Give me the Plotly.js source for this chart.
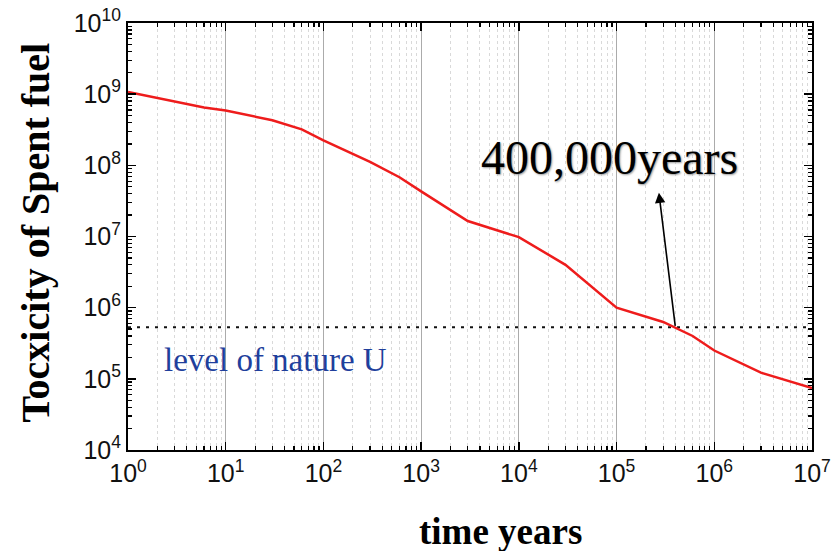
<!DOCTYPE html>
<html>
<head>
<meta charset="utf-8">
<script src="https://cdn.plot.ly/plotly-3.0.1.min.js"></script>
<style>
  html, body { margin: 0; padding: 0; background: #fff; }
  #chart { width: 833px; height: 551px; }
</style>
</head>
<body>
<div id="chart"></div>
<script>
// time (years)
var years = [1, 6, 10, 30, 60, 100, 300, 600, 1000, 3000, 10000, 30000, 100000, 300000, 600000, 1000000, 3000000, 10000000];
// toxicity of spent fuel
var toxicity = [1.07e9, 6.5e8, 5.9e8, 4.3e8, 3.2e8, 2.25e8, 1.12e8, 6.8e7, 4.3e7, 1.65e7, 9.8e6, 4.0e6, 1.0e6, 6.3e5, 4.0e5, 2.5e5, 1.22e5, 7.4e4];
// natural uranium level
var natureLevel = 5.3e5;
var natureRangeX = [1, 10000000];
var crossingYear = 400000;

var xTickVals = [1, 10, 100, 1000, 10000, 100000, 1000000, 10000000];
var xTickText = ['10<sup>0</sup>', '10<sup>1</sup>', '10<sup>2</sup>', '10<sup>3</sup>', '10<sup>4</sup>', '10<sup>5</sup>', '10<sup>6</sup>', '10<sup>7</sup>'];
var yTickVals = [1e4, 1e5, 1e6, 1e7, 1e8, 1e9, 1e10];
var yTickText = ['10<sup>4</sup>', '10<sup>5</sup>', '10<sup>6</sup>', '10<sup>7</sup>', '10<sup>8</sup>', '10<sup>9</sup>', '10<sup>10</sup>'];

var traces = [
  {
    x: natureRangeX, y: [natureLevel, natureLevel],
    type: 'scatter', mode: 'lines',
    line: {color: '#111', width: 2, dash: '3px,6px'},
    hoverinfo: 'skip', showlegend: false
  },
  {
    x: years, y: toxicity,
    type: 'scatter', mode: 'lines',
    line: {color: '#ee1c1c', width: 2.5},
    showlegend: false
  }
];

var tickFont = {family: 'Liberation Sans, Arial, sans-serif', size: 25, color: '#111'};
var serif = 'Liberation Serif, Times New Roman, serif';

var layout = {
  width: 833, height: 551,
  margin: {l: 128, r: 21, t: 23, b: 101},
  paper_bgcolor: '#fff', plot_bgcolor: '#fff',
  showlegend: false,
  xaxis: {
    type: 'log', range: [0, 7],
    tickmode: 'array', tickvals: xTickVals, ticktext: xTickText,
    tickfont: tickFont, ticklabeloverflow: 'allow',
    ticks: 'inside', ticklen: 8, tickwidth: 1.5, tickcolor: '#000',
    showline: true, linecolor: '#000', linewidth: 2, mirror: 'ticks',
    showgrid: true, gridcolor: '#ababab', gridwidth: 1,
    zeroline: false,
    minor: {dtick: 'D1', ticks: 'inside', ticklen: 4, tickwidth: 1.2, tickcolor: '#000',
            showgrid: true, gridcolor: '#d9d9d9', gridwidth: 1, griddash: '3px,3px'}
  },
  yaxis: {
    type: 'log', range: [4, 10],
    tickmode: 'array', tickvals: yTickVals, ticktext: yTickText,
    tickfont: tickFont, ticklabeloverflow: 'allow',
    ticks: 'inside', ticklen: 8, tickwidth: 1.5, tickcolor: '#000',
    showline: true, linecolor: '#000', linewidth: 2, mirror: 'ticks',
    showgrid: false, zeroline: false,
    minor: {dtick: 'D1', ticks: 'inside', ticklen: 4, tickwidth: 1.2, tickcolor: '#000', showgrid: false}
  },
  shapes: [
    {type: 'rect', xref: 'paper', yref: 'paper', x0: 0.4716, x1: 0.9854, y0: 0.6042, y1: 0.7775,
     fillcolor: '#fff', line: {width: 0}, layer: 'between'},
    {type: 'rect', xref: 'paper', yref: 'paper', x0: 0.003, x1: 0.639, y0: 0.1452, y1: 0.274,
     fillcolor: '#fff', line: {width: 0}, layer: 'between'}
  ],
  annotations: [
    {text: '400,000years', xref: 'paper', yref: 'paper', x: 0.7045, y: 0.686,
     xanchor: 'center', yanchor: 'middle', showarrow: false,
     font: {family: serif, size: 48, color: '#000', shadow: '1px 1px 2px #999'}},
    {text: 'level of nature U', xref: 'paper', yref: 'paper', x: 0.2162, y: 0.2108,
     xanchor: 'center', yanchor: 'middle', showarrow: false,
     font: {family: serif, size: 33, color: '#1f3f9c'}},
    {text: '', xref: 'x', yref: 'y', axref: 'x', ayref: 'y',
     x: 5.433, y: 7.616, ax: Math.log10(crossingYear), ay: Math.log10(natureLevel),
     showarrow: true, arrowhead: 2, arrowsize: 1.3, arrowwidth: 1.6, arrowcolor: '#000'},
    {text: '<b>time years</b>', xref: 'paper', yref: 'paper', x: 0.545, y: -0.19,
     xanchor: 'center', yanchor: 'middle', showarrow: false,
     font: {family: serif, size: 37, color: '#000'}},
    {text: '<b>Tocxicity of Spent fuel</b>', xref: 'paper', yref: 'paper', x: -0.1354, y: 0.5105,
     xanchor: 'center', yanchor: 'middle', showarrow: false, textangle: -90,
     font: {family: serif, size: 40, color: '#000'}}
  ]
};

Plotly.newPlot('chart', traces, layout, {displayModeBar: false, staticPlot: true});
</script>
</body>
</html>
